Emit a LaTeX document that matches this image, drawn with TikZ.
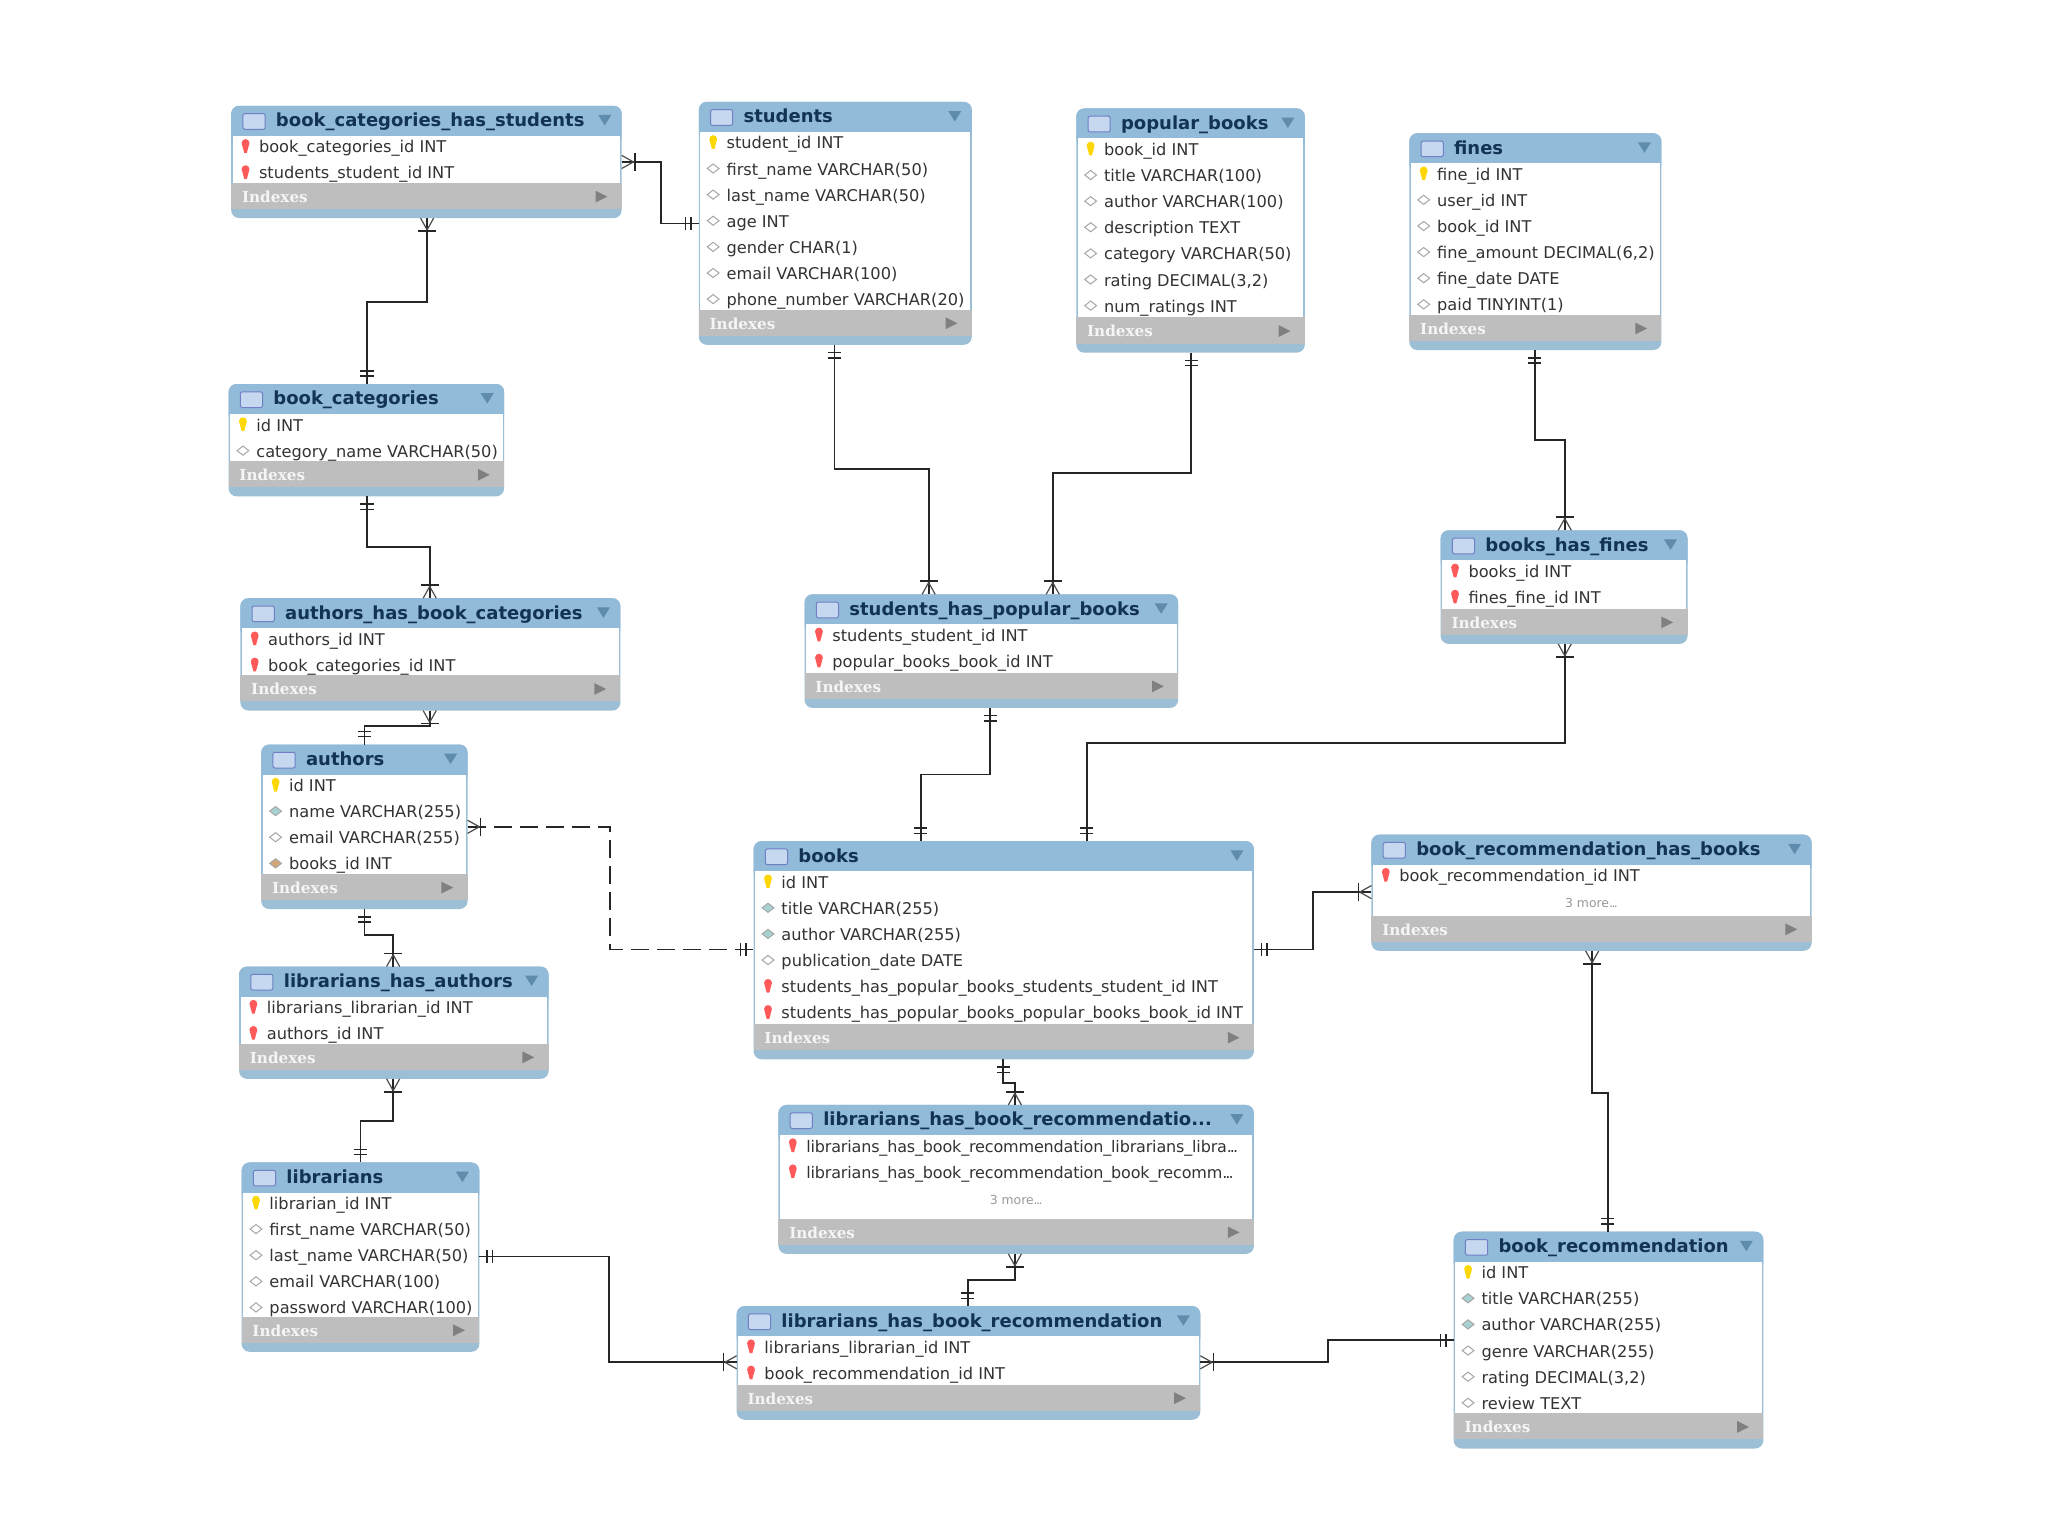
\documentclass[tikz,border=0pt]{standalone}
\usepackage{fontspec}
\setmainfont{DejaVu Sans}
\newfontfamily\idxfont{DejaVu Serif}
\usetikzlibrary{fit}
\definecolor{hdr}{HTML}{92BAD9}
\definecolor{strip}{HTML}{9DBFD6}
\definecolor{barg}{HTML}{BEBEBE}
\definecolor{tri}{HTML}{5F8CAC}
\definecolor{ttl}{HTML}{123353}
\definecolor{rowc}{HTML}{333333}
\definecolor{icofill}{HTML}{C6D8F0}
\definecolor{icoline}{HTML}{6F80C4}
\newcommand{\dd}{.\kern-.12em.\kern-.12em.}
\tikzset{
 x=0.65306pt,y=-0.65306pt,
 tframe/.style={fill=strip,draw=none,inner sep=0pt,outer sep=0pt,rounded corners=4pt},
 titletext/.style={font=\fontsize{9}{10}\selectfont\bfseries,text=ttl,inner sep=0pt,anchor=base west},
 rowtext/.style={font=\fontsize{8.1}{9}\selectfont,text=rowc,inner sep=0pt,anchor=base west},
 longrow/.style={font=\fontsize{8}{9}\selectfont\addfontfeatures{LetterSpace=-1},text=rowc,inner sep=0pt,anchor=base west},
 moretext/.style={font=\fontsize{6.2}{7}\selectfont,text=black!40,inner sep=0pt,anchor=base},
 idxtext/.style={font=\fontsize{7.6}{8}\selectfont\idxfont\bfseries,text=white!85!barg,inner sep=0pt,anchor=base west},
 conn/.style={draw=black!85,line width=0.85pt},
 pics/manyend/.style={code={
   \draw[solid,line width=0.8pt,black!85] (10,-7) -- (10,7);
   \draw[solid,line width=0.6pt,black!70] (9,0) -- (0,-5) (9,0) -- (0,5);
 }},
 pics/oneend/.style={code={
   \draw[solid,line width=0.7pt,black!85] (6,-5) -- (6,5) (10,-5) -- (10,5);
 }}
}
\newcommand{\keyshape}[3]{\fill[#3] ({#1-3},{#2-2.5}) arc[start angle=180,end angle=360,radius=3] -- ({#1+1},{#2+5}) -- ({#1-1},{#2+5}) -- cycle;}
\newcommand{\dia}[3]{\filldraw[fill=#3,draw=black!35,line width=0.5pt] ({#1-4.5},{#2}) -- ({#1},{#2-3.5}) -- ({#1+4.5},{#2}) -- ({#1},{#2+3.5}) -- cycle;}
\newcommand{\rowiconk}[2]{\keyshape{#1}{#2}{yellow!75!orange}}
\newcommand{\rowiconf}[2]{\keyshape{#1}{#2}{red!65!white}}
\newcommand{\rowiconl}[2]{\keyshape{#1}{#2}{red!65!white}}
\newcommand{\rowiconw}[2]{\dia{#1}{#2}{white}}
\newcommand{\rowicont}[2]{\dia{#1}{#2}{teal!35!white}}
\newcommand{\rowiconb}[2]{\dia{#1}{#2}{brown!70!white}}
\newcommand{\rowiconm}[2]{}
% name, x1, y1, x2, y2, title, rows
\newcommand{\tbl}[7]{%
 \node[tframe,fit={(#2,#3)(#4,#5)}] (#1) {};
 \begin{scope}
  \fill[hdr,rounded corners=4pt] (#2,#3) rectangle (#4,{#3+30});
  \fill[white] ({#2+1.2},{#3+23}) rectangle ({#4-1.2},{#5-27});
  \fill[barg] (#2,{#5-27}) rectangle (#4,{#5-7});
  \filldraw[fill=icofill,draw=icoline,line width=0.5pt,rounded corners=1pt] ({#2+9},{#3+6}) rectangle ({#2+26},{#3+18});
  \fill[tri] ({#4-18},{#3+7}) -- ({#4-8},{#3+7}) -- ({#4-13},{#3+15}) -- cycle;
  \fill[black!50] ({#4-20},{#5-21}) -- ({#4-20},{#5-12}) -- ({#4-11},{#5-16.5}) -- cycle;
 \end{scope}
 \node[titletext] (#1title) at ({#2+34},{#3+16}) {#6};
 \node[idxtext] (#1idx) at ({#2+8},{#5-12}) {Indexes};
 \foreach \rowkind/\rowtxt [count=\i from 0] in {#7} {
  \csname rowicon\rowkind\endcsname{(#2+11)}{(#3+31+20*\i)}
  \if m\rowkind
   \node[moretext] (#1r\i) at ({(#2+#4)/2},{#3+36+20*\i}) {\rowtxt};
  \else
   \if l\rowkind
    \node[longrow] (#1r\i) at ({#2+21},{#3+36+20*\i}) {\rowtxt};
   \else
    \node[rowtext] (#1r\i) at ({#2+21},{#3+36+20*\i}) {\rowtxt};
   \fi
  \fi
 }
}
\begin{document}
\begin{tikzpicture}
\fill[white] (0,0) rectangle (1568,1176);
\useasboundingbox (0,0) rectangle (1568,1176);
\tbl{bchs}{177}{81}{476}{167}{book\_categories\_has\_students}{f/book\_categories\_id INT,f/students\_student\_id INT}
\tbl{students}{535}{78}{744}{264}{students}{k/student\_id INT,w/first\_name VARCHAR(50),w/last\_name VARCHAR(50),w/age INT,w/gender CHAR(1),w/email VARCHAR(100),w/phone\_number VARCHAR(20)}
\tbl{popular}{824}{83}{999}{270}{popular\_books}{k/book\_id INT,w/title VARCHAR(100),w/author VARCHAR(100),w/description TEXT,w/category VARCHAR(50),w/{rating DECIMAL(3,2)},w/num\_ratings INT}
\tbl{fines}{1079}{102}{1272}{268}{fines}{k/fine\_id INT,w/user\_id INT,w/book\_id INT,w/{fine\_amount DECIMAL(6,2)},w/fine\_date DATE,w/paid TINYINT(1)}
\tbl{bc}{175}{294}{386}{380}{book\_categories}{k/id INT,w/category\_name VARCHAR(50)}
\tbl{ahbc}{184}{458}{475}{544}{authors\_has\_book\_categories}{f/authors\_id INT,f/book\_categories\_id INT}
\tbl{shpb}{616}{455}{902}{542}{students\_has\_popular\_books}{f/students\_student\_id INT,f/popular\_books\_book\_id INT}
\tbl{bhf}{1103}{406}{1292}{493}{books\_has\_fines}{f/books\_id INT,f/fines\_fine\_id INT}
\tbl{authors}{200}{570}{358}{696}{authors}{k/id INT,t/name VARCHAR(255),w/email VARCHAR(255),b/books\_id INT}
\tbl{books}{577}{644}{960}{811}{books}{k/id INT,t/title VARCHAR(255),t/author VARCHAR(255),w/publication\_date DATE,f/students\_has\_popular\_books\_students\_student\_id INT,f/students\_has\_popular\_books\_popular\_books\_book\_id INT}
\tbl{brhb}{1050}{639}{1387}{728}{book\_recommendation\_has\_books}{f/book\_recommendation\_id INT,m/3 more\dd}
\tbl{lha}{183}{740}{420}{826}{librarians\_has\_authors}{f/librarians\_librarian\_id INT,f/authors\_id INT}
\tbl{lhbrd}{596}{846}{960}{960}{librarians\_has\_book\_recommendatio...}{l/librarians\_has\_book\_recommendation\_librarians\_libra\dd,l/librarians\_has\_book\_recommendation\_book\_recomm\dd,m/3 more\dd}
\tbl{librarians}{185}{890}{367}{1035}{librarians}{k/librarian\_id INT,w/first\_name VARCHAR(50),w/last\_name VARCHAR(50),w/email VARCHAR(100),w/password VARCHAR(100)}
\tbl{lhbr}{564}{1000}{919}{1087}{librarians\_has\_book\_recommendation}{f/librarians\_librarian\_id INT,f/book\_recommendation\_id INT}
\tbl{br}{1113}{943}{1350}{1109}{book\_recommendation}{k/id INT,t/title VARCHAR(255),t/author VARCHAR(255),w/genre VARCHAR(255),w/{rating DECIMAL(3,2)},w/review TEXT}
% connectors
\draw[conn] (bchs.east |- 0,124) pic{manyend} -- (506,124) -- (506,171) -- (students.west |- 0,171) pic[rotate=180]{oneend};
\draw[conn] (bchs.south -| 327,0) pic[rotate=-90]{manyend} -- (327,231) -- (281,231) -- (bc.north -| 281,0) pic[rotate=90]{oneend};
\draw[conn] (bc.south -| 281,0) pic[rotate=-90]{oneend} -- (281,419) -- (329,419) -- (ahbc.north -| 329,0) pic[rotate=90]{manyend};
\draw[conn] (ahbc.south -| 329,0) pic[rotate=-90]{manyend} -- (329,556) -- (279,556) -- (authors.north -| 279,0) pic[rotate=90]{oneend};
\draw[conn] (authors.south -| 279,0) pic[rotate=-90]{oneend} -- (279,716) -- (301,716) -- (lha.north -| 301,0) pic[rotate=90]{manyend};
\draw[conn] (lha.south -| 301,0) pic[rotate=-90]{manyend} -- (301,858) -- (276,858) -- (librarians.north -| 276,0) pic[rotate=90]{oneend};
\draw[conn] (librarians.east |- 0,962) pic{oneend} -- (466,962) -- (466,1043) -- (lhbr.west |- 0,1043) pic[rotate=180]{manyend};
\draw[conn] (lhbr.east |- 0,1043) pic{manyend} -- (1017,1043) -- (1017,1026) -- (br.west |- 0,1026) pic[rotate=180]{oneend};
\draw[conn] (lhbr.north -| 741,0) pic[rotate=90]{oneend} -- (741,980) -- (777,980) -- (lhbrd.south -| 777,0) pic[rotate=-90]{manyend};
\draw[conn] (books.south -| 768,0) pic[rotate=-90]{oneend} -- (768,829) -- (777,829) -- (lhbrd.north -| 777,0) pic[rotate=90]{manyend};
\draw[conn] (shpb.south -| 758,0) pic[rotate=-90]{oneend} -- (758,593) -- (705,593) -- (books.north -| 705,0) pic[rotate=90]{oneend};
\draw[conn] (bhf.south -| 1198,0) pic[rotate=-90]{manyend} -- (1198,569) -- (832,569) -- (books.north -| 832,0) pic[rotate=90]{oneend};
\draw[conn] (books.east |- 0,727) pic{oneend} -- (1005,727) -- (1005,683) -- (brhb.west |- 0,683) pic[rotate=180]{manyend};
\draw[conn] (brhb.south -| 1219,0) pic[rotate=-90]{manyend} -- (1219,837) -- (1231,837) -- (br.north -| 1231,0) pic[rotate=90]{oneend};
\draw[conn] (students.south -| 639,0) pic[rotate=-90]{oneend} -- (639,359) -- (711,359) -- (shpb.north -| 711,0) pic[rotate=90]{manyend};
\draw[conn] (popular.south -| 912,0) pic[rotate=-90]{oneend} -- (912,362) -- (806,362) -- (shpb.north -| 806,0) pic[rotate=90]{manyend};
\draw[conn] (fines.south -| 1175,0) pic[rotate=-90]{oneend} -- (1175,337) -- (1198,337) -- (bhf.north -| 1198,0) pic[rotate=90]{manyend};
\draw[conn,dash pattern=on 9pt off 4pt] (authors.east |- 0,633) pic{manyend} -- (467,633) -- (467,727) -- (books.west |- 0,727) pic[rotate=180]{oneend};
\end{tikzpicture}
\end{document}
